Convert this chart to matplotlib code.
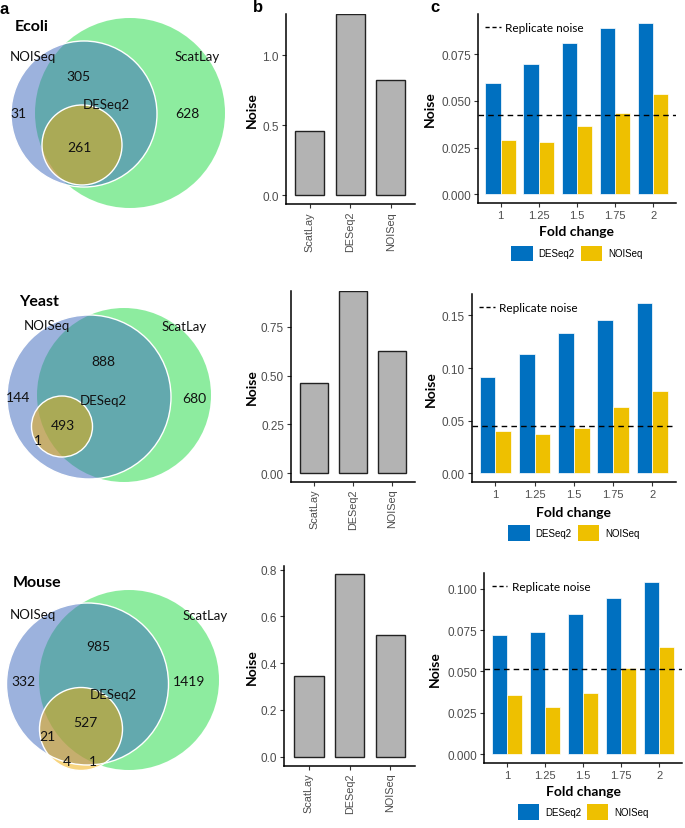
import matplotlib
matplotlib.use("Agg")
import matplotlib.pyplot as plt
from matplotlib.patches import Circle, Patch
from matplotlib.lines import Line2D

W, H = 685, 829

# ---- data ----
species = ["Ecoli", "Yeast", "Mouse"]
set_names = ["ScatLay", "NOISeq", "DESeq2"]

venn_numbers = [
    ["31", "305", "628", "261"],
    ["144", "888", "680", "493", "1"],
    ["332", "985", "1419", "527", "21", "4", "1"],
]

b_methods = ["ScatLay", "DESeq2", "NOISeq"]
b_noise = [
    [0.457, 1.29, 0.82],
    [0.46, 0.93, 0.627],
    [0.347, 0.78, 0.52],
]
b_ticks = [[0.0, 0.5, 1.0], [0.0, 0.25, 0.5, 0.75], [0.0, 0.2, 0.4, 0.6, 0.8]]
b_fmt = ["{:.1f}", "{:.2f}", "{:.1f}"]

fold_changes = ["1", "1.25", "1.5", "1.75", "2"]
c_deseq2 = [
    [0.0595, 0.0695, 0.0812, 0.0889, 0.0919],
    [0.0912, 0.1132, 0.1337, 0.146, 0.1623],
    [0.072, 0.0738, 0.0849, 0.0944, 0.1042],
]
c_noiseq = [
    [0.0292, 0.0279, 0.0366, 0.0437, 0.0537],
    [0.0399, 0.0368, 0.0434, 0.0629, 0.0786],
    [0.0358, 0.0284, 0.0368, 0.0521, 0.0648],
]
replicate_noise = [0.0423, 0.0453, 0.0513]
c_ticks = [[0, 0.025, 0.05, 0.075], [0, 0.05, 0.1, 0.15], [0, 0.025, 0.05, 0.075, 0.1]]
c_fmt = ["{:.3f}", "{:.2f}", "{:.3f}"]

# ---- layout (pixels, y from top) ----
venn_circles = [  # (cx, cy, r) for ScatLay, NOISeq, DESeq2
    [(130, 114, 95), (84, 115, 73), (82, 146, 40)],
    [(124, 396, 87), (89, 398, 82), (62, 427.5, 30.5)],
    [(129, 681, 90), (87.5, 685, 81), (81, 730, 41.5)],
]
venn_name_xy = [
    [(197, 57), (33, 57), (106, 105)],
    [(184, 327), (47, 326), (103, 401)],
    [(205, 616), (33, 615), (113, 695)],
]
venn_number_xy = [
    [(18, 114), (78, 77), (187, 114), (79, 148)],
    [(18, 398), (103, 362), (194, 399), (63, 426), (38, 441)],
    [(23, 682), (98, 647), (189, 682), (85, 723), (47, 737), (67, 762), (93, 762)],
]
title_xy = [(15, 27), (19, 302), (13, 583)]

b_boxes = [(285.7, 15, 415, 205), (291, 292, 415, 482.7), (284.3, 566.7, 415, 766.7)]
b_ylims = [(-0.064, 1.293), (-0.043, 0.9325), (-0.0385, 0.817)]
b_ylabel_x = 252

c_boxes = [(477.7, 15, 676, 204), (471.7, 295, 676, 482.7), (484.3, 574, 682, 764)]
c_ylabel_x = [430, 431, 435]
c_xlabel_y = [232, 513, 792]
c_legend_y = [246.5, 526, 805]

venn_colors = ["#1DDB41", "#3B67BD", "#F1AB00"]
blue = "#0070C0"
gold = "#EEC000"
grey_bar = "#B3B3B3"
tick_col = "#4D4D4D"

calibri = ["Lato", "DejaVu Sans"]
arial = ["Liberation Sans", "DejaVu Sans"]


def fx(x):
    return x / W


def fy(y):
    return 1 - y / H


def add_axes_px(box):
    x0, y0, x1, y1 = box
    return fig.add_axes([fx(x0), fy(y1), (x1 - x0) / W, (y1 - y0) / H])


def style_axes(ax):
    for s in ["top", "right"]:
        ax.spines[s].set_visible(False)
    for s in ["left", "bottom"]:
        ax.spines[s].set_linewidth(1.1)
        ax.spines[s].set_color("black")
    ax.tick_params(length=3, width=0.8, color="#333333", labelcolor=tick_col, pad=2)
    ax.set_facecolor("none")


fig = plt.figure(figsize=(W / 100, H / 100), dpi=100)

# ---- panel a: venn diagrams ----
va = fig.add_axes([0, 0, 1, 1])
va.set_xlim(0, W)
va.set_ylim(H, 0)
va.axis("off")

for i, sp in enumerate(species):
    for (cx, cy, r), col in zip(venn_circles[i], venn_colors):
        va.add_patch(Circle((cx, cy), r, facecolor=col, alpha=0.5, edgecolor="none"))
    for (cx, cy, r) in venn_circles[i][1:]:
        va.add_patch(Circle((cx, cy), r, fill=False, edgecolor="white", lw=1.0))
    for name, (x, y) in zip(set_names, venn_name_xy[i]):
        va.text(x, y, name, ha="center", va="center", fontsize=9.5, family=calibri, color="#111111")
    for num, (x, y) in zip(venn_numbers[i], venn_number_xy[i]):
        va.text(x, y, num, ha="center", va="center", fontsize=10, family=calibri, color="#111111")
    tx, ty = title_xy[i]
    va.text(tx, ty, sp, ha="left", va="center", fontsize=11.5, fontweight="bold", family=calibri)

for letter, (x, y) in zip(["a", "b", "c"], [(4, 9), (258, 8), (435, 8)]):
    fig.text(fx(x), fy(y), letter, ha="center", va="center", fontsize=12, fontweight="bold", family=arial)

# ---- panel b: overall noise ----
for i in range(3):
    ax = add_axes_px(b_boxes[i])
    xs = list(range(len(b_methods)))
    ax.bar(xs, b_noise[i], width=0.72, color=grey_bar, edgecolor="#222222", linewidth=1.0)
    ax.set_xlim(-0.6, len(b_methods) - 0.4)
    ax.set_ylim(*b_ylims[i])
    ax.set_yticks(b_ticks[i])
    ax.set_yticklabels([b_fmt[i].format(t) for t in b_ticks[i]], family=arial, fontsize=8.5)
    ax.set_xticks(xs)
    ax.set_xticklabels(b_methods, rotation=90, family=arial, fontsize=7.8, va="top", ha="center")
    style_axes(ax)
    x0, y0, x1, y1 = b_boxes[i]
    fig.text(fx(b_ylabel_x), fy((y0 + y1) / 2), "Noise", rotation=90, ha="center", va="center",
             fontsize=10, fontweight="bold", family=calibri)

# ---- panel c: noise by fold change ----
for i in range(3):
    ax = add_axes_px(c_boxes[i])
    xs = list(range(len(fold_changes)))
    ax.bar([x - 0.2 for x in xs], c_deseq2[i], width=0.4, color=blue, edgecolor="white", linewidth=0.5)
    ax.bar([x + 0.2 for x in xs], c_noiseq[i], width=0.4, color=gold, edgecolor="white", linewidth=0.5)
    ax.axhline(replicate_noise[i], color="black", lw=1.0, ls=(0, (4, 3)))
    top = max(c_deseq2[i])
    ax.set_ylim(-0.05 * top, 1.05 * top)
    ax.set_xlim(-0.6, len(fold_changes) - 0.4)
    ax.set_yticks(c_ticks[i])
    ax.set_yticklabels([c_fmt[i].format(t) for t in c_ticks[i]], family=arial, fontsize=8.5)
    ax.set_xticks(xs)
    ax.set_xticklabels(fold_changes, family=arial, fontsize=8)
    style_axes(ax)
    ax.legend(handles=[Line2D([], [], color="black", lw=1.0, ls=(0, (3, 2)))], labels=["Replicate noise"],
              loc="upper left", frameon=False, handlelength=1.3, handletextpad=0.4,
              borderaxespad=0.45, borderpad=0.2, prop={"family": calibri, "size": 8.5})
    x0, y0, x1, y1 = c_boxes[i]
    fig.text(fx(c_ylabel_x[i]), fy((y0 + y1) / 2), "Noise", rotation=90, ha="center", va="center",
             fontsize=10, fontweight="bold", family=calibri)
    fig.text(fx((x0 + x1) / 2), fy(c_xlabel_y[i]), "Fold change", ha="center", va="center",
             fontsize=10, fontweight="bold", family=calibri)
    fig.legend(handles=[Patch(facecolor=blue), Patch(facecolor=gold)], labels=["DESeq2", "NOISeq"],
               loc="upper center", bbox_to_anchor=(fx((x0 + x1) / 2), fy(c_legend_y[i])),
               ncol=2, frameon=False, handlelength=2.2, handleheight=2.1, handletextpad=0.6,
               columnspacing=0.6, borderpad=0, borderaxespad=0, prop={"family": arial, "size": 7})

fig.savefig("out.png", dpi=100)
